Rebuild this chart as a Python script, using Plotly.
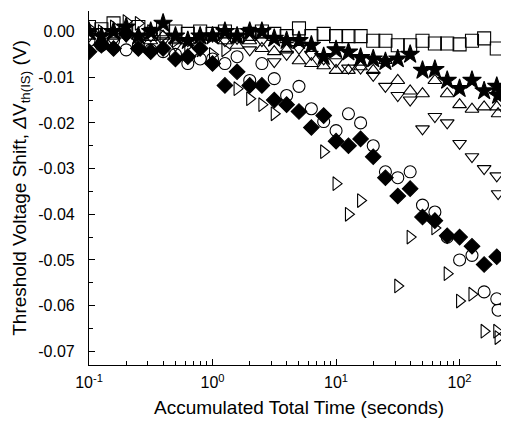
import plotly.graph_objects as go

# accumulated stress time (s)
times = [0.1, 0.126, 0.158, 0.2, 0.251, 0.316, 0.398, 0.501, 0.631, 0.794,
         1.0, 1.26, 1.58, 2.0, 2.51, 3.16, 3.98, 5.01, 6.31, 7.94,
         10.0, 12.6, 15.8, 20.0, 25.1, 31.6, 39.8, 50.1, 63.1, 79.4,
         100, 126, 158, 200, 205]

# threshold voltage shift (V) for each sample
squares = [0.001, 0.0005, 0.0018, 0.0, 0.001, -0.0005, 0.0005, 0.0, -0.0005, 0.0,
           -0.0005, 0.0, -0.0008, -0.0005, 0.0, -0.0005, -0.001, 0.0007, -0.001, -0.0005,
           -0.001, -0.001, -0.001, -0.002, -0.002, -0.003, -0.003, -0.002, -0.0026, -0.0026,
           -0.0028, -0.002, -0.0015, -0.0037, None]
stars = [0.0, -0.001, 0.0, 0.001, -0.001, 0.0, 0.0018, -0.001, -0.002, -0.001,
         -0.001, 0.0, -0.001, 0.0, 0.0, -0.0015, -0.002, -0.002, -0.003, -0.0055,
         -0.004, -0.0045, -0.0057, -0.006, -0.0066, -0.006, -0.005, -0.0085, -0.0083, -0.0107,
         -0.0125, -0.0107, -0.013, -0.012, -0.014]
tri_up = [-0.001, -0.002, -0.001, 0.0, -0.001, -0.002, -0.001, -0.002, -0.002, -0.001,
          -0.001, -0.002, -0.003, -0.002, -0.0037, -0.0044, -0.004, -0.0064, -0.007, -0.0075,
          -0.0085, -0.0085, -0.0077, -0.0085, -0.0063, -0.0107, -0.013, -0.0136, -0.0107, -0.0136,
          -0.016, -0.017, -0.0165, -0.0165, -0.018]
tri_down = [-0.001, 0.0, -0.002, -0.001, -0.002, -0.001, -0.002, -0.003, -0.002, -0.002,
            -0.001, -0.002, -0.0015, -0.004, -0.002, -0.0066, -0.005, -0.0037, -0.005, -0.006,
            -0.0066, -0.008, -0.008, -0.0096, -0.012, -0.014, -0.015, -0.0213, -0.0186, -0.020,
            -0.0245, -0.0274, -0.030, -0.0316, -0.0355]
circles = [-0.002, -0.003, -0.002, -0.004, -0.003, -0.004, -0.0044, -0.005, -0.007, -0.006,
           -0.006, -0.007, -0.0055, -0.0107, -0.007, -0.0103, -0.014, -0.012, -0.0169, -0.0197,
           -0.0217, -0.018, -0.020, -0.025, -0.0307, -0.032, -0.0307, -0.038, -0.0395, -0.045,
           -0.050, -0.049, -0.057, -0.0585, -0.061]
diamonds = [-0.0044, -0.003, -0.0037, -0.0005, -0.0037, -0.0044, -0.0037, -0.006, -0.0055, -0.0037,
            -0.007, -0.0118, -0.0088, -0.0118, -0.0118, -0.015, -0.016, -0.0175, -0.021, -0.0184,
            -0.024, -0.025, -0.0235, -0.0274, -0.032, -0.036, -0.0344, -0.0406, -0.0414, -0.0447,
            -0.045, -0.047, -0.051, -0.0493, None]
tri_right = [0.0007, 0.0, 0.001, 0.0022, 0.0018, 0.0, -0.001, -0.002, -0.003, -0.004,
             -0.005, -0.004, -0.0125, -0.0147, -0.016, -0.018, None, None, None, -0.0263,
             -0.0333, -0.040, -0.037, None, None, -0.0557, -0.045, None, -0.043, -0.053,
             -0.059, -0.0575, -0.0656, -0.0656, -0.067]

y_ticks = [0.0, -0.01, -0.02, -0.03, -0.04, -0.05, -0.06, -0.07]
y_labels = ["0.00", "-0.01", "-0.02", "-0.03", "-0.04", "-0.05", "-0.06", "-0.07"]
x_ticks = [0.1, 1, 10, 100]
x_labels = ["10<sup>-1</sup>", "10<sup>0</sup>", "10<sup>1</sup>", "10<sup>2</sup>"]

series = [
    (tri_right, "triangle-right-open", 12),
    (circles, "circle-open", 12),
    (diamonds, "diamond", 12),
    (tri_down, "triangle-down-open", 12),
    (tri_up, "triangle-up-open", 12),
    (stars, "star", 14),
    (squares, "square-open", 13),
]

fig = go.Figure()
for vals, sym, size in series:
    fig.add_trace(go.Scatter(
        x=times, y=vals, mode="markers",
        marker=dict(symbol=sym, size=size, color="black",
                    line=dict(color="black", width=1.1)),
        showlegend=False,
    ))

minor_x = [m * 10 ** e for e in (-1, 0, 1, 2) for m in range(2, 10)]
minor_y = [-0.005 * i for i in range(-1, 15)]

# the page body keeps its default 8px margin, so the figure is 8px smaller
fig.update_layout(
    width=501, height=413,
    margin=dict(l=81, r=0, t=3, b=56),
    paper_bgcolor="white", plot_bgcolor="white",
    font=dict(family="Liberation Sans, Arial, sans-serif", size=16, color="black"),
    xaxis=dict(
        type="log", range=[-1, 2.4], automargin=False,
        tickvals=x_ticks, ticktext=x_labels,
        ticks="inside", ticklen=6, tickwidth=1, tickcolor="black",
        minor=dict(tickvals=minor_x, ticks="inside", ticklen=4, tickcolor="black"),
        ticklabelstandoff=3,
        showline=True, linecolor="black", linewidth=1.2,
        showgrid=False, zeroline=False,
        title=dict(text="Accumulated Total Time (seconds)", standoff=10),
    ),
    yaxis=dict(
        range=[-0.073, 0.0045], automargin=False,
        tickvals=y_ticks, ticktext=y_labels,
        ticks="inside", ticklen=6, tickwidth=1, tickcolor="black",
        minor=dict(tickvals=minor_y, ticks="inside", ticklen=4, tickcolor="black"),
        ticklabelstandoff=10,
        showline=True, linecolor="black", linewidth=1.2,
        showgrid=False, zeroline=False,
        title=dict(text="Threshold Voltage Shift, <i>Δ</i>V<sub>th(IS)</sub> (V)", standoff=6),
    ),
)

fig.write_html("out.html")
